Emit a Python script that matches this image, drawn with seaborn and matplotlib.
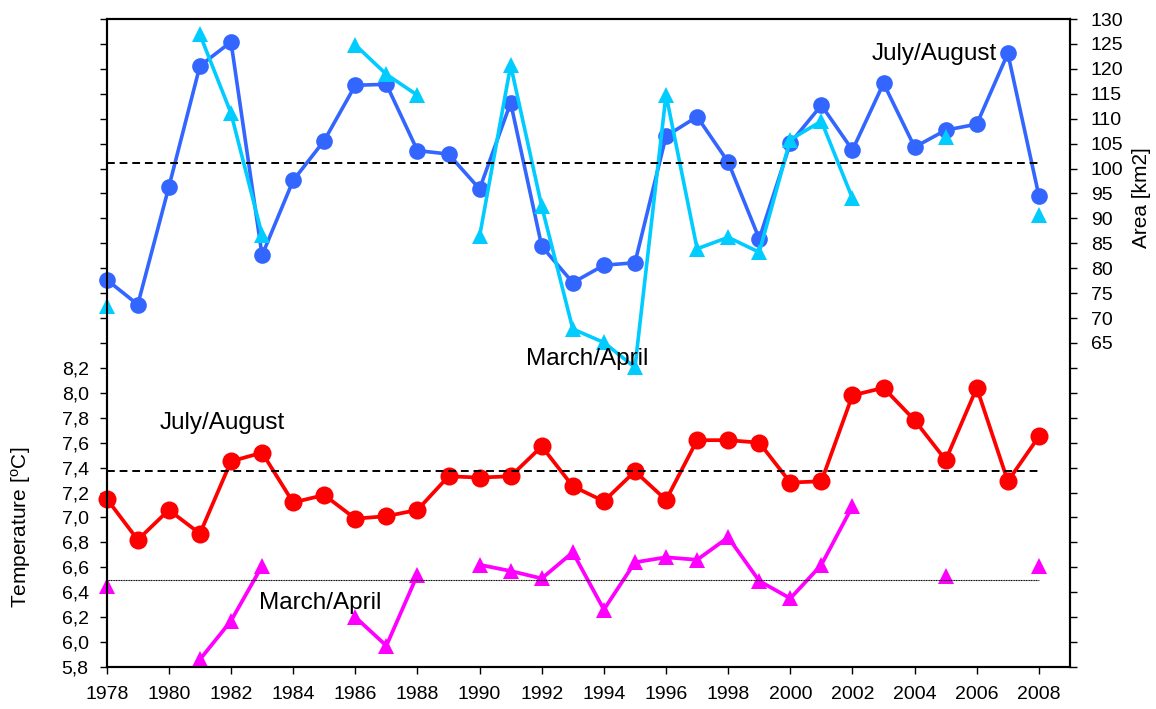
import numpy as np
import pandas as pd
import matplotlib
matplotlib.use("Agg")
import matplotlib.pyplot as plt
import seaborn as sns

# data
years = list(range(1978, 2009))
nan = np.nan

area_jul_aug = [77.7, 72.7, 96.3, 120.6, 125.4, 82.6, 97.6, 105.6, 116.7, 116.9,
                103.6, 102.9, 95.9, 113.2, 84.4, 77.1, 80.6, 81.1, 106.5, 110.4,
                101.3, 85.9, 105.1, 112.7, 103.7, 117.1, 104.3, 107.7, 108.9, 123.1, 94.5]
area_mar_apr = [72.5, nan, nan, 126.9, 111.1, 86.7, nan, nan, 124.8, 118.9,
                114.7, nan, 86.4, 120.7, 92.4, 67.8, 65.1, 60.1, 114.8, 83.9,
                86.2, 83.2, 105.8, 109.5, 94.0, nan, nan, 106.3, nan, nan, 90.7]
temp_jul_aug = [7.15, 6.82, 7.06, 6.87, 7.45, 7.52, 7.12, 7.18, 6.99, 7.01,
                7.06, 7.33, 7.32, 7.33, 7.57, 7.25, 7.13, 7.37, 7.14, 7.62,
                7.62, 7.60, 7.28, 7.29, 7.98, 8.04, 7.78, 7.46, 8.04, 7.29, 7.65]
temp_mar_apr = [6.45, nan, nan, 5.86, 6.17, 6.61, nan, nan, 6.20, 5.97,
                6.54, nan, 6.62, 6.57, 6.51, 6.72, 6.26, 6.64, 6.68, 6.66,
                6.84, 6.49, 6.35, 6.62, 7.09, nan, nan, 6.53, nan, nan, 6.61]

area_mean = 101.1
temp_jul_mean = 7.37
temp_mar_mean = 6.50


def to_frame(values):
    # split series into runs so gaps break the line
    df = pd.DataFrame({"year": years, "value": values})
    df["seg"] = df["value"].isna().cumsum()
    return df.dropna()


sns.set_style("ticks")
plt.rcParams["font.family"] = ["Liberation Sans", "DejaVu Sans"]
plt.rcParams["text.color"] = "black"
plt.rcParams["axes.labelcolor"] = "black"

fig = plt.figure(figsize=(11.56, 7.09), dpi=100)
ax = fig.add_axes([0.0923, 0.0593, 0.8333, 0.9139])
ax2 = ax.twinx()

# temperature (left axis)
sns.lineplot(data=to_frame(temp_jul_aug), x="year", y="value", units="seg", estimator=None,
             color="#FF0000", marker="o", markersize=13, markeredgewidth=0,
             linewidth=2.7, clip_on=False, ax=ax)
sns.lineplot(data=to_frame(temp_mar_apr), x="year", y="value", units="seg", estimator=None,
             color="#FF00FF", marker="^", markersize=12, markeredgewidth=0,
             linewidth=2.7, clip_on=False, ax=ax)
ax.hlines(temp_jul_mean, years[0], years[-1], colors="black", linestyles=(0, (4, 2.5)), linewidth=1.4)
ax.hlines(temp_mar_mean, years[0], years[-1], colors="black", linestyles=(0, (1, 0.5)), linewidth=0.8)

# area (right axis)
sns.lineplot(data=to_frame(area_jul_aug), x="year", y="value", units="seg", estimator=None,
             color="#3366FF", marker="o", markersize=12, markeredgewidth=0,
             linewidth=2.6, clip_on=False, ax=ax2)
sns.lineplot(data=to_frame(area_mar_apr), x="year", y="value", units="seg", estimator=None,
             color="#00CCFF", marker="^", markersize=12, markeredgewidth=0,
             linewidth=2.6, clip_on=False, ax=ax2)
ax2.hlines(area_mean, years[0], years[-1], colors="black", linestyles=(0, (4, 2.5)), linewidth=1.4)

# axes
ax.set_xlim(1978, 2009)
ax.set_xticks(range(1978, 2009, 2))
ax.set_xlabel("")

ax.set_ylim(5.8, 11.0)
lt = np.round(np.arange(5.8, 11.01, 0.2), 1)
ax.set_yticks(lt)
ax.set_yticklabels([f"{v:.1f}".replace(".", ",") if v <= 8.2 + 1e-9 else "" for v in lt])
ax.set_ylabel("Temperature [$\\mathregular{^o}$C]", fontsize=15)
ax.yaxis.set_label_coords(-0.077, 0.215)

ax2.set_ylim(0, 130)
rt = np.arange(0, 131, 5)
ax2.set_yticks(rt)
ax2.set_yticklabels([str(v) if v >= 65 else "" for v in rt])
ax2.set_ylabel("Area [km2]", fontsize=15)
ax2.yaxis.set_label_coords(1.064, 0.725)
ax2.set_xlabel("")

for a in (ax, ax2):
    a.tick_params(labelsize=14, length=5, width=1, direction="out", pad=8, colors="black")
    for s in a.spines.values():
        s.set_visible(True)
        s.set_linewidth(1.5)
        s.set_color("black")
ax.tick_params(axis="x", pad=9)
ax2.tick_params(axis="y", pad=10)

# series labels
ax2.text(2004.63, 122.9, "July/August", fontsize=17.5, ha="center", va="center")
ax2.text(1993.47, 61.7, "March/April", fontsize=17.5, ha="center", va="center")
ax.text(1981.71, 7.76, "July/August", fontsize=17.5, ha="center", va="center")
ax.text(1984.87, 6.31, "March/April", fontsize=17.5, ha="center", va="center")

fig.savefig("out.png", dpi=100)
